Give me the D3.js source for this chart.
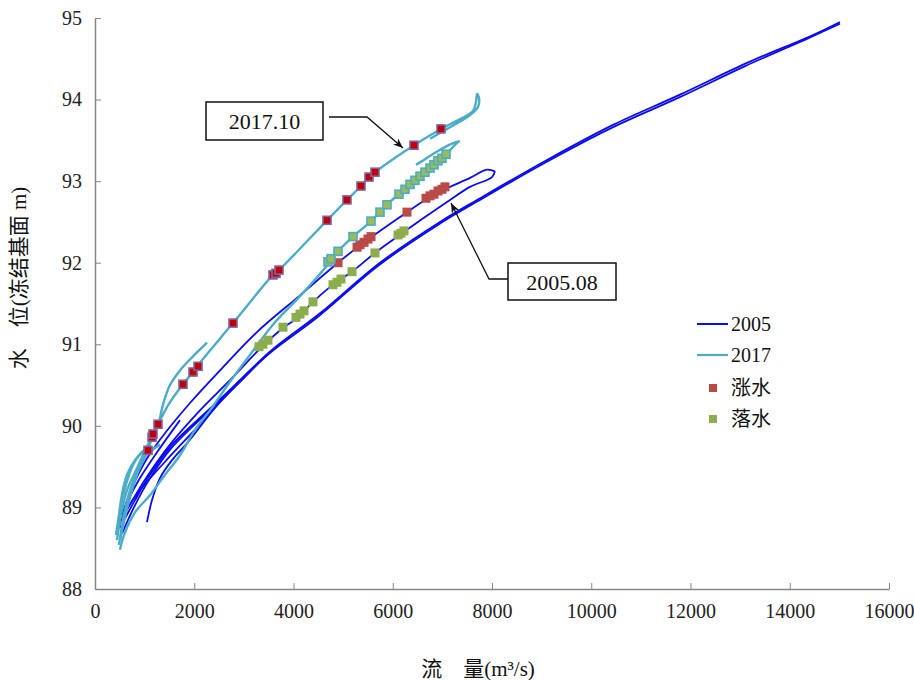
<!DOCTYPE html>
<html>
<head>
<meta charset="utf-8">
<script src="https://cdn.jsdelivr.net/npm/d3@7"></script>
<style>
  body { margin: 0; background: #fff; }
  text { font-family: "Liberation Serif", "Noto Sans CJK SC", serif; }
</style>
</head>
<body>
<svg id="chart" width="914" height="680"></svg>
<script>
// axis ticks
var xTicks = [0, 2000, 4000, 6000, 8000, 10000, 12000, 14000, 16000];
var yTicks = [88, 89, 90, 91, 92, 93, 94, 95];

// 2005 stage-discharge traces [Q, H]
var flood2005Rise = [[504,88.75],[806,89.09],[1108,89.40],[1511,89.74],[2116,90.10],[2720,90.44],[3526,90.91],[4534,91.38],[5743,92.00],[6952,92.50],[7758,92.79],[9108,93.26],[10438,93.69],[11788,94.06],[13138,94.45],[14468,94.79],[15012,94.95]];
var flood2005Fall = [[15012,94.93],[14400,94.76],[13100,94.41],[11750,94.02],[10400,93.65],[9050,93.22],[7700,92.75],[6900,92.46],[5700,91.96],[4500,91.34],[3500,90.88],[2700,90.42],[2100,90.07],[1500,89.70],[1100,89.35],[800,89.02],[544,88.68]];
var aug2005Rise = [[544,88.91],[746,89.24],[1008,89.56],[1310,89.83],[1914,90.28],[2519,90.68],[3264,91.15],[4131,91.60],[4897,92.00],[5400,92.24],[6287,92.62],[6710,92.79],[7013,92.89],[7557,93.04],[7899,93.14],[8060,93.12]];
var aug2005Fall = [[8060,93.12],[8000,93.05],[7557,92.93],[7154,92.77],[6650,92.56],[6186,92.36],[5642,92.12],[5179,91.89],[4836,91.75],[4393,91.52],[4071,91.32],[3788,91.20],[3365,90.97],[2720,90.56],[2116,90.19],[1511,89.77],[1008,89.34],[605,88.93]];
var small2005a = [[1048,88.82],[1149,89.09],[1310,89.36],[1552,89.58],[1914,89.83],[2418,90.22],[3023,90.60],[3526,90.91]];
var small2005b = [[665,89.09],[907,89.36],[1209,89.64],[1713,90.07]];
var small2005c = [[443,88.72],[605,88.94],[907,89.21],[1411,89.56],[2116,90.02],[2720,90.44]];

// 2017 traces [Q, H]
var oct2017Rise = [[504,88.60],[665,89.03],[846,89.40],[1068,89.70],[1149,89.86],[1270,90.02],[1511,90.29],[1773,90.51],[1975,90.66],[2096,90.76],[2781,91.26],[3587,91.85],[3708,91.91],[4675,92.52],[5078,92.77],[5360,92.94],[5521,93.05],[5642,93.11],[6428,93.44],[6972,93.64],[7355,93.76],[7617,93.86],[7678,93.97],[7698,94.07],[7738,94.02],[7718,93.91],[7557,93.81],[7154,93.66],[6751,93.52]];
var oct2017Fall = [[504,88.48],[584,88.66],[806,88.94],[1108,89.15],[1411,89.40],[1713,89.64],[2015,89.95],[2317,90.19],[2720,90.54],[3123,90.87],[3627,91.27],[4131,91.59],[4735,92.01],[4897,92.14],[5199,92.32],[5562,92.51],[5884,92.71],[6307,92.94],[6751,93.16],[7073,93.33],[7295,93.47],[7335,93.49],[7194,93.46],[6912,93.37],[6549,93.23],[6468,93.20]];
var small2017a = [[443,88.60],[524,88.91],[645,89.21],[846,89.48],[1068,89.77],[1270,90.01],[1370,90.26],[1511,90.50],[1713,90.68],[1955,90.84],[2257,91.02]];
var small2017b = [[423,88.66],[504,88.97],[625,89.28],[766,89.52],[947,89.68],[1108,89.74]];
var small2017c = [[484,88.54],[564,88.85],[705,89.21],[866,89.46],[1028,89.64],[1310,89.77]];
var small2017d = [[463,88.72],[524,89.09],[645,89.40],[806,89.58],[1008,89.70]];

// measured points [Q, H]
var rise2017Pts = [[1068,89.70],[1149,89.86],[1169,89.90],[1270,90.02],[1773,90.51],[1975,90.66],[2076,90.73],[2781,91.26],[3587,91.85],[3647,91.87],[3708,91.91],[4675,92.52],[5078,92.77],[5360,92.94],[5521,93.05],[5642,93.11],[6428,93.44],[6972,93.64]];
var fall2017Pts = [[4695,92.01],[4756,92.05],[4897,92.14],[5199,92.32],[5562,92.51],[5743,92.62],[5884,92.71],[6126,92.84],[6247,92.90],[6348,92.96],[6448,93.01],[6549,93.06],[6650,93.11],[6751,93.16],[6831,93.20],[6912,93.25],[6992,93.28],[7073,93.33]];
var rise2005Pts = [[4897,92.00],[5280,92.19],[5340,92.22],[5421,92.25],[5501,92.29],[5562,92.32],[6287,92.62],[6670,92.79],[6751,92.82],[6831,92.84],[6912,92.88],[6992,92.90],[7053,92.93]];
var fall2005Pts = [[3305,90.97],[3385,91.00],[3486,91.05],[3788,91.21],[4050,91.33],[4131,91.37],[4212,91.41],[4393,91.52],[4796,91.73],[4877,91.76],[4957,91.80],[5179,91.89],[5642,92.12],[6106,92.34],[6166,92.36],[6227,92.39]];

var legendLabels = ["2005", "2017", "涨水", "落水"];

var blue = "#0a0af5", teal = "#4bacc6";
var axisGray = "#868686";

var svg = d3.select("#chart");

var x = d3.scaleLinear().domain([0, 16000]).range([95, 889]);
var y = d3.scaleLinear().domain([88, 95]).range([589, 18]);

// axes
var xAxis = svg.append("g")
  .attr("transform", "translate(0,589)")
  .call(d3.axisBottom(x).tickValues(xTicks).tickSize(-6).tickSizeOuter(0).tickPadding(15).tickFormat(d3.format("d")));
var yAxis = svg.append("g")
  .attr("transform", "translate(95,0)")
  .call(d3.axisLeft(y).tickValues(yTicks).tickSize(-6).tickSizeOuter(0).tickPadding(13).tickFormat(d3.format("d")));

[xAxis, yAxis].forEach(function (g) {
  g.select(".domain").attr("stroke", axisGray).attr("stroke-width", 1.5);
  g.selectAll(".tick line").attr("stroke", axisGray).attr("stroke-width", 1);
  g.selectAll(".tick text")
    .attr("fill", "#222")
    .style("font-size", "20px")
    .style("font-family", "'Liberation Serif', serif");
});

// axis titles
svg.append("text")
  .attr("transform", "translate(26,278) rotate(-90)")
  .attr("text-anchor", "middle")
  .style("font-size", "21px")
  .attr("fill", "#111")
  .text("水\u3000位(冻结基面 m)");

svg.append("text")
  .attr("x", 478)
  .attr("y", 676)
  .attr("text-anchor", "middle")
  .style("font-size", "21px")
  .attr("fill", "#111")
  .text("流\u3000量(m³/s)");

var line = d3.line()
  .x(function (d) { return x(d[0]); })
  .y(function (d) { return y(d[1]); })
  .curve(d3.curveCatmullRom.alpha(0.5));

var lines2005 = [flood2005Rise, flood2005Fall, aug2005Rise, aug2005Fall, small2005a, small2005b, small2005c];
var lines2017 = [small2017b, small2017c, small2017d, small2017a, oct2017Fall, oct2017Rise];

svg.append("g").selectAll("path")
  .data(lines2005)
  .enter().append("path")
    .attr("d", line)
    .attr("fill", "none")
    .attr("stroke", blue)
    .attr("stroke-width", 1.8);

svg.append("g").selectAll("path")
  .data(lines2017)
  .enter().append("path")
    .attr("d", line)
    .attr("fill", "none")
    .attr("stroke", teal)
    .attr("stroke-width", 2.4);

function squares(data, size, fill, stroke) {
  svg.append("g").selectAll("rect")
    .data(data)
    .enter().append("rect")
      .attr("x", function (d) { return x(d[0]) - size / 2; })
      .attr("y", function (d) { return y(d[1]) - size / 2; })
      .attr("width", size)
      .attr("height", size)
      .attr("fill", fill)
      .attr("stroke", stroke || "none")
      .attr("stroke-width", stroke ? 1.6 : 0);
}

squares(fall2005Pts, 9, "#8cad4d");
squares(rise2005Pts, 9, "#b84a47");
squares(fall2017Pts, 8, "#9bbb59", teal);
squares(rise2017Pts, 8, "#c00000", "#8064a2");

// legend
var legend = svg.append("g");
var legendY = [324, 355, 388, 419];
legend.selectAll("text")
  .data(legendLabels)
  .enter().append("text")
    .attr("x", 731)
    .attr("y", function (d, i) { return legendY[i] + 7; })
    .style("font-size", "20px")
    .attr("fill", "#111")
    .text(function (d) { return d; });
legend.append("line").attr("x1", 697).attr("x2", 728).attr("y1", legendY[0]).attr("y2", legendY[0])
  .attr("stroke", blue).attr("stroke-width", 2);
legend.append("line").attr("x1", 697).attr("x2", 728).attr("y1", legendY[1]).attr("y2", legendY[1])
  .attr("stroke", teal).attr("stroke-width", 2.2);
legend.append("rect").attr("x", 709).attr("y", legendY[2] - 4).attr("width", 8).attr("height", 8).attr("fill", "#b84a47");
legend.append("rect").attr("x", 709).attr("y", legendY[3] - 4).attr("width", 8).attr("height", 8).attr("fill", "#8cad4d");

// annotations
svg.append("defs").append("marker")
  .attr("id", "arrow")
  .attr("viewBox", "0 0 10 8")
  .attr("refX", 10).attr("refY", 4)
  .attr("markerWidth", 10).attr("markerHeight", 8)
  .attr("markerUnits", "userSpaceOnUse")
  .attr("orient", "auto")
  .append("path")
    .attr("d", "M0,0 L10,4 L0,8 L3,4 z")
    .attr("fill", "#111");

function callout(label, bx, by, bw, bh, pts) {
  svg.append("rect")
    .attr("x", bx).attr("y", by).attr("width", bw).attr("height", bh)
    .attr("fill", "#fff").attr("stroke", "#111").attr("stroke-width", 1.5);
  svg.append("text")
    .attr("x", bx + bw / 2).attr("y", by + bh / 2 + 8)
    .attr("text-anchor", "middle")
    .style("font-size", "22px")
    .attr("fill", "#111")
    .text(label);
  svg.append("path")
    .attr("d", d3.line()(pts))
    .attr("fill", "none")
    .attr("stroke", "#111")
    .attr("stroke-width", 1.3)
    .attr("marker-end", "url(#arrow)");
}

callout("2017.10", 206, 102, 117, 38, [[329, 117], [367, 117], [403, 148]]);
callout("2005.08", 508, 263, 108, 37, [[508, 279], [489, 279], [451, 203]]);
</script>
</body>
</html>
